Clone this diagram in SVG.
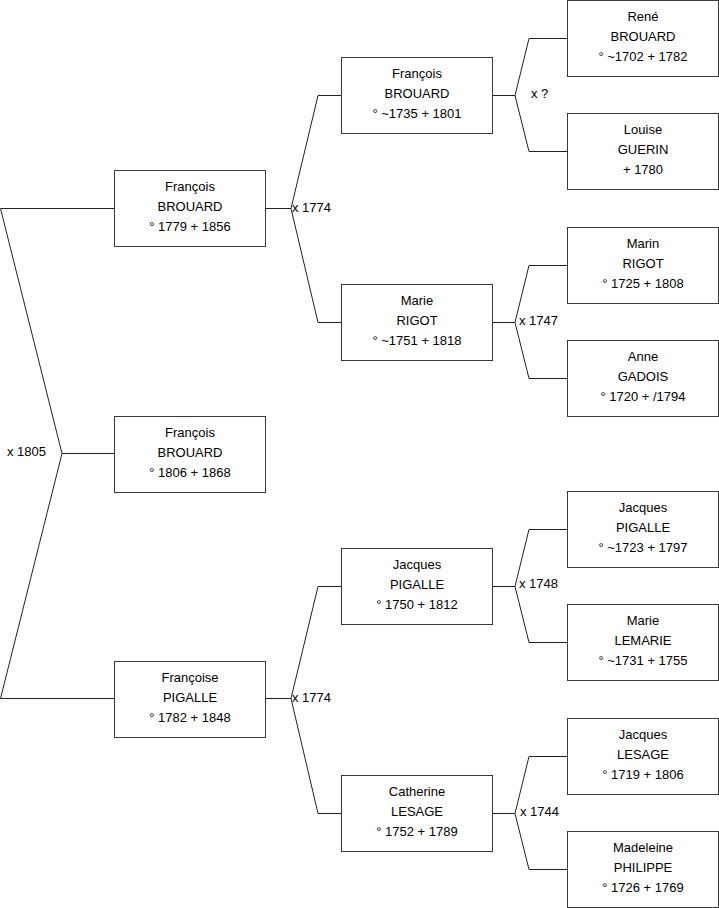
<svg xmlns="http://www.w3.org/2000/svg" width="719" height="908" viewBox="0 0 719 908">
<style>
.box rect{fill:#fff;stroke:#3a3a3a;stroke-width:1}
text{font-family:"Liberation Sans",Arial,sans-serif;font-size:13px;fill:#000}
.box text{text-anchor:middle}
.c path{fill:none;stroke:#222;stroke-width:1}
</style>
<rect width="719" height="908" fill="#fff"/>
<g class="c" id="connectors">
<path d="M114 208.5H0.5L62 453.5H114M62 453.5L0.5 698.5H114"/>
<path d="M265 208.5H291L318 95.5H341M291 208.5L318 322.5H341"/>
<path d="M265 698.5H291L318 586.5H341M291 698.5L318 813.5H341"/>
<path d="M492 95.5H515L529 38.5H567M515 95.5L529 151.5H567"/>
<path d="M492 322.5H515L529 265.5H567M515 322.5L529 378.5H567"/>
<path d="M492 586.5H515L529 529.5H567M515 586.5L529 642.5H567"/>
<path d="M492 813.5H515L529 756.5H567M515 813.5L529 869.5H567"/>
<text x="7" y="456">x 1805</text>
<text x="292" y="212">x 1774</text>
<text x="292" y="702">x 1774</text>
<text x="531" y="98">x ?</text>
<text x="519" y="325">x 1747</text>
<text x="519" y="588">x 1748</text>
<text x="520" y="816">x 1744</text>
</g>
<g class="box" id="n1"><rect x="114.5" y="170.5" width="151" height="76"/><text x="190" y="191">François</text><text x="190" y="211">BROUARD</text><text x="190" y="231">° 1779 + 1856</text></g>
<g class="box" id="n0"><rect x="114.5" y="416.5" width="151" height="76"/><text x="190" y="437">François</text><text x="190" y="457">BROUARD</text><text x="190" y="477">° 1806 + 1868</text></g>
<g class="box" id="n2"><rect x="114.5" y="661.5" width="151" height="76"/><text x="190" y="682">Françoise</text><text x="190" y="702">PIGALLE</text><text x="190" y="722">° 1782 + 1848</text></g>
<g class="box" id="n3"><rect x="341.5" y="57.5" width="151" height="76"/><text x="417" y="78">François</text><text x="417" y="98">BROUARD</text><text x="417" y="118">° ~1735 + 1801</text></g>
<g class="box" id="n4"><rect x="341.5" y="284.5" width="151" height="76"/><text x="417" y="305">Marie</text><text x="417" y="325">RIGOT</text><text x="417" y="345">° ~1751 + 1818</text></g>
<g class="box" id="n5"><rect x="341.5" y="548.5" width="151" height="76"/><text x="417" y="569">Jacques</text><text x="417" y="589">PIGALLE</text><text x="417" y="609">° 1750 + 1812</text></g>
<g class="box" id="n6"><rect x="341.5" y="775.5" width="151" height="76"/><text x="417" y="796">Catherine</text><text x="417" y="816">LESAGE</text><text x="417" y="836">° 1752 + 1789</text></g>
<g class="box" id="n7"><rect x="567.5" y="0.5" width="151" height="76"/><text x="643" y="21">René</text><text x="643" y="41">BROUARD</text><text x="643" y="61">° ~1702 + 1782</text></g>
<g class="box" id="n8"><rect x="567.5" y="113.5" width="151" height="76"/><text x="643" y="134">Louise</text><text x="643" y="154">GUERIN</text><text x="643" y="174">+ 1780</text></g>
<g class="box" id="n9"><rect x="567.5" y="227.5" width="151" height="76"/><text x="643" y="248">Marin</text><text x="643" y="268">RIGOT</text><text x="643" y="288">° 1725 + 1808</text></g>
<g class="box" id="n10"><rect x="567.5" y="340.5" width="151" height="76"/><text x="643" y="361">Anne</text><text x="643" y="381">GADOIS</text><text x="643" y="401">° 1720 + /1794</text></g>
<g class="box" id="n11"><rect x="567.5" y="491.5" width="151" height="76"/><text x="643" y="512">Jacques</text><text x="643" y="532">PIGALLE</text><text x="643" y="552">° ~1723 + 1797</text></g>
<g class="box" id="n12"><rect x="567.5" y="604.5" width="151" height="76"/><text x="643" y="625">Marie</text><text x="643" y="645">LEMARIE</text><text x="643" y="665">° ~1731 + 1755</text></g>
<g class="box" id="n13"><rect x="567.5" y="718.5" width="151" height="76"/><text x="643" y="739">Jacques</text><text x="643" y="759">LESAGE</text><text x="643" y="779">° 1719 + 1806</text></g>
<g class="box" id="n14"><rect x="567.5" y="831.5" width="151" height="76"/><text x="643" y="852">Madeleine</text><text x="643" y="872">PHILIPPE</text><text x="643" y="892">° 1726 + 1769</text></g>
</svg>
